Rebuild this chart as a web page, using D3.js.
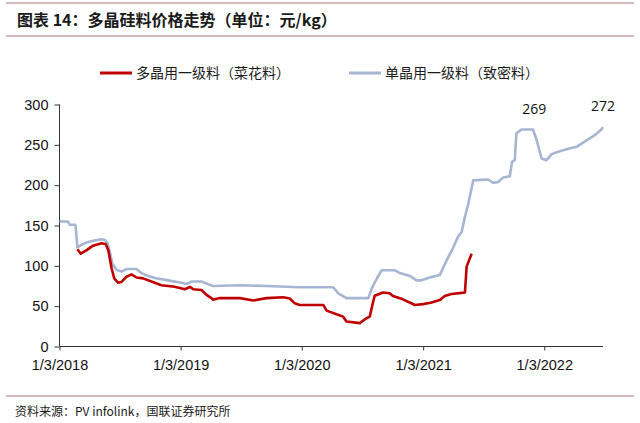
<!DOCTYPE html>
<html>
<head>
<meta charset="utf-8">
<script src="https://cdn.jsdelivr.net/npm/d3@7"></script>
<style>
  html, body { margin: 0; padding: 0; background: #ffffff; }
  svg { display: block; }
</style>
</head>
<body>
<svg id="chart" width="640" height="423"></svg>
<script>
// ---------- data ----------
const titleText = "图表 14：多晶硅料价格走势（单位：元/kg）";
const sourceText = "资料来源：PV infolink，国联证券研究所";
const seriesNames = ["多晶用一级料（菜花料）", "单晶用一级料（致密料）"];

const redDates = ["2018-02-26","2018-03-08","2018-03-26","2018-04-14","2018-05-10","2018-05-22","2018-05-30","2018-06-09","2018-06-17","2018-06-29","2018-07-09","2018-07-24","2018-08-08","2018-08-23","2018-09-12","2018-10-07","2018-11-06","2018-12-16","2019-01-16","2019-01-31","2019-02-10","2019-03-07","2019-03-22","2019-04-06","2019-04-11","2019-05-01","2019-07-01","2019-08-10","2019-09-19","2019-11-08","2019-11-28","2019-12-13","2019-12-28","2020-03-08","2020-03-18","2020-04-17","2020-05-07","2020-05-17","2020-06-26","2020-07-16","2020-07-26","2020-08-05","2020-08-10","2020-09-04","2020-09-24","2020-10-04","2020-11-03","2020-12-09","2021-01-03","2021-01-28","2021-02-22","2021-03-09","2021-03-29","2021-04-29","2021-05-09","2021-05-14","2021-05-29"];
const redValues = [120.5,115,119.5,125,128,127,119.5,97,84.5,79,80,86.5,89.5,85.5,84.5,80.5,76,74,71,74,71,70,64,60,58,60,60,57,60,61,59.5,53.5,51.5,51.5,44.5,40,37,31,29,35,37,55,63,67,66,62.5,58.5,51.5,52.5,54.5,57.5,62.5,65,66.5,67,99,115];

const blueDates = ["2018-01-03","2018-01-28","2018-02-03","2018-02-20","2018-02-26","2018-03-10","2018-03-26","2018-04-14","2018-05-10","2018-05-20","2018-05-28","2018-06-04","2018-06-11","2018-06-24","2018-07-09","2018-07-24","2018-08-23","2018-09-05","2018-09-17","2018-10-17","2018-11-26","2019-01-06","2019-01-21","2019-02-05","2019-03-07","2019-03-22","2019-04-11","2019-07-01","2019-09-19","2019-12-28","2020-04-07","2020-04-22","2020-05-17","2020-07-22","2020-08-01","2020-08-16","2020-08-31","2020-10-10","2020-10-25","2020-11-24","2020-12-14","2020-12-29","2021-01-23","2021-02-22","2021-03-15","2021-04-03","2021-04-18","2021-04-29","2021-05-09","2021-05-19","2021-06-03","2021-07-18","2021-08-02","2021-08-17","2021-09-01","2021-09-21","2021-09-28","2021-10-06","2021-10-11","2021-10-26","2021-11-30","2021-12-11","2021-12-26","2022-01-10","2022-01-25","2022-02-14","2022-03-11","2022-04-10","2022-05-05","2022-06-04","2022-06-24","2022-06-29"];
const blueValues = [155,155,151,151,123,126,129,131,133,132,128,117,103,95,93,96,96,91.5,89,85,82,79,77.5,80.5,80.5,78,75,76,75,73.5,73.5,66,60,60,72,84,94.5,94.5,91,87.5,82,82,85.5,88.5,107,122,136,142,161,177,206,207,203,204,209.5,211,229,231,264,269,269,256,233,231,238.5,241.5,244.5,247.5,254,262,269,272];

const annotDates = ["2021-12-04","2022-06-29"];
const annotValues = [269,272];
const annotLabels = ["269","272"];

const xTickDates = ["2018-01-03","2019-01-03","2020-01-03","2021-01-03","2022-01-03"];
const xTickLabels = ["1/3/2018","1/3/2019","1/3/2020","1/3/2021","1/3/2022"];
const yTicks = [0,50,100,150,200,250,300];
const xDomain = ["2018-01-03","2022-06-29"];

// ---------- drawing ----------
const parse = d3.utcParse("%Y-%m-%d");
const svg = d3.select("#chart");

const x = d3.scaleUtc().domain(xDomain.map(parse)).range([59.5, 603]);
const y = d3.scaleLinear().domain([0, 300]).range([346.5, 104.5]);

const cjk = "'Noto Sans CJK SC', 'Noto Sans', sans-serif";
const latin = "'Liberation Sans', Arial, sans-serif";

// header rules
svg.append("line").attr("x1", 6).attr("x2", 634).attr("y1", 3).attr("y2", 3)
  .attr("stroke", "#c4a4a2").attr("stroke-width", 1.5);
svg.append("line").attr("x1", 6).attr("x2", 634).attr("y1", 36).attr("y2", 36)
  .attr("stroke", "#c4a4a2").attr("stroke-width", 1.5);
svg.append("text").attr("x", 17).attr("y", 26)
  .attr("font-family", cjk).attr("font-weight", "bold").attr("font-size", 16)
  .attr("fill", "#1a1a1a").text(titleText);

// footer
svg.append("line").attr("x1", 6).attr("x2", 634).attr("y1", 396).attr("y2", 396)
  .attr("stroke", "#c4a4a2").attr("stroke-width", 1.5);
svg.append("text").attr("x", 15).attr("y", 416)
  .attr("font-family", cjk).attr("font-size", 12)
  .attr("fill", "#1a1a1a").text(sourceText);

// legend
const legendColors = ["#c00000", "#a6b6d2"];
const legendX = [100, 349];
const legendY = 73;
seriesNames.forEach((name, i) => {
  svg.append("line").attr("x1", legendX[i]).attr("x2", legendX[i] + 32)
    .attr("y1", legendY).attr("y2", legendY)
    .attr("stroke", legendColors[i]).attr("stroke-width", 3);
  svg.append("text").attr("x", legendX[i] + 36).attr("y", legendY + 5)
    .attr("font-family", cjk).attr("font-size", 14)
    .attr("fill", "#1a1a1a").text(name);
});

// axes
const xAxis = d3.axisBottom(x)
  .tickValues(xTickDates.map(parse))
  .tickFormat((d, i) => xTickLabels[i])
  .tickSize(4).tickPadding(9);
const gx = svg.append("g").attr("transform", "translate(0,346.5)").call(xAxis);
gx.select(".domain").attr("stroke", "#333").attr("d", "M59.5,0H603");
gx.selectAll(".tick line").attr("stroke", "#333");
gx.selectAll("text").attr("font-family", latin).attr("font-size", 14.5).attr("fill", "#111");

const yAxis = d3.axisLeft(y).tickValues(yTicks).tickSize(5).tickPadding(6);
const gy = svg.append("g").attr("transform", "translate(59.5,0)").call(yAxis);
gy.select(".domain").attr("stroke", "#333").attr("d", "M0,104.5V346.5");
gy.selectAll(".tick line").attr("stroke", "#333");
gy.selectAll("text").attr("font-family", latin).attr("font-size", 14.5).attr("fill", "#111");

// lines
const line = d3.line().x(d => x(d.date)).y(d => y(d.value)).curve(d3.curveLinear);
const blueData = blueDates.map((d, i) => ({ date: parse(d), value: blueValues[i] }));
const redData = redDates.map((d, i) => ({ date: parse(d), value: redValues[i] }));

svg.append("path").datum(blueData).attr("d", line)
  .attr("fill", "none").attr("stroke", legendColors[1]).attr("stroke-width", 2.6)
  .attr("stroke-linejoin", "round");
svg.append("path").datum(redData).attr("d", line)
  .attr("fill", "none").attr("stroke", legendColors[0]).attr("stroke-width", 2.6)
  .attr("stroke-linejoin", "round");

// annotations
annotDates.forEach((d, i) => {
  svg.append("text").attr("x", x(parse(d))).attr("y", y(annotValues[i]) - 16)
    .attr("text-anchor", "middle")
    .attr("font-family", "'Open Sans', 'DejaVu Sans', sans-serif").attr("font-size", 14)
    .attr("fill", "#111").text(annotLabels[i]);
});
</script>
</body>
</html>
